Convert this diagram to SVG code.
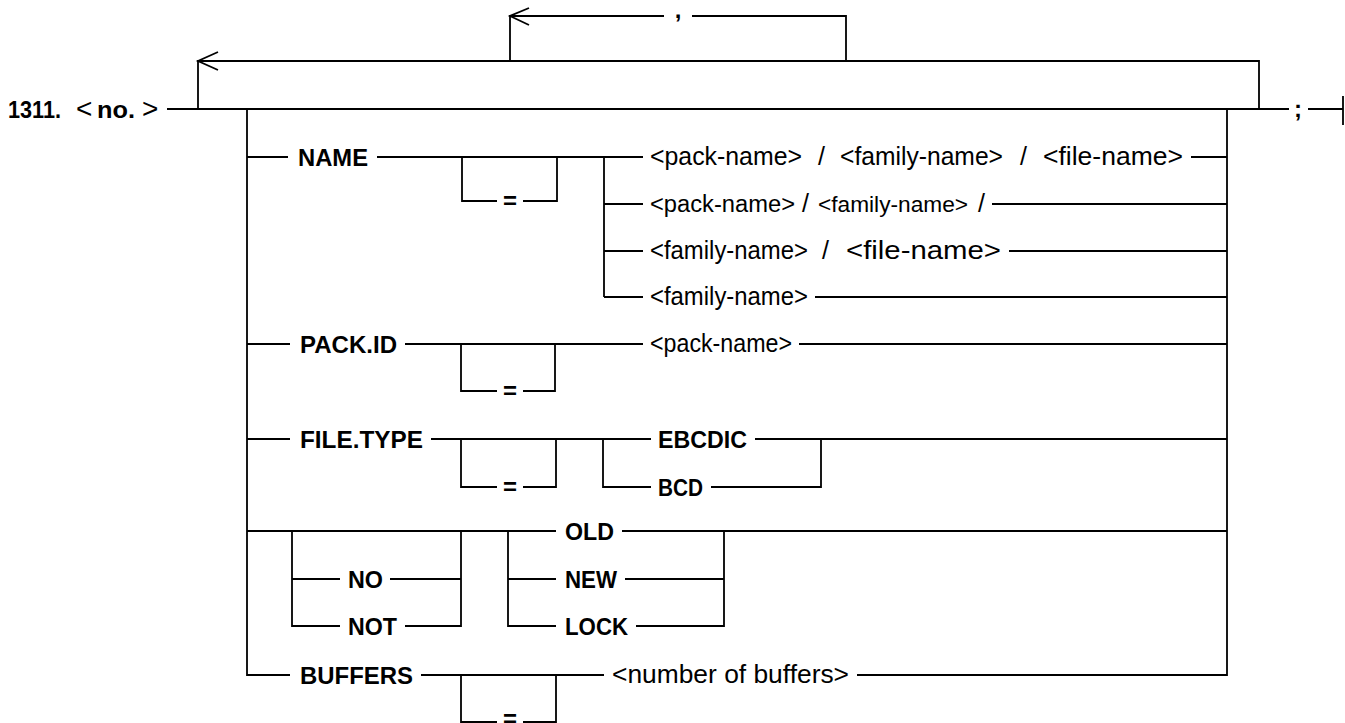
<svg xmlns="http://www.w3.org/2000/svg" width="1345" height="723" viewBox="0 0 1345 723">
<style>
.c{fill:none;stroke:#000;stroke-width:1.8}
.k{font-family:"Liberation Sans",Arial,sans-serif;font-weight:bold;font-size:24px;fill:#000}
.n{font-family:"Liberation Sans",Arial,sans-serif;font-size:25px;fill:#000}
.b{font-family:"Liberation Sans",Arial,sans-serif;font-size:28px}
.m{text-anchor:middle}
</style>
<rect width="1345" height="723" fill="#fff"/>
<g id="connectors" class="c">
<path d="M167 109 H1289 M1308 109 H1343 M1343 96 V125"/>
<path d="M198 109 V61 H1259 V109"/>
<path d="M218 52 L198 61 L218 70"/>
<path d="M510 61 V16 H664 M692 16 H846 V61"/>
<path d="M529 8 L510 16 L529 25"/>
<path d="M247 109 V675 H290"/>
<path d="M1227 109 V675 H857"/>
<path d="M247 157 H288 M377 157 H643 M462 157 V201 H497 M523 201 H557 V157 M604 157 V297 M1191 157 H1227"/>
<path d="M604 204 H643 M992 204 H1227 M604 251 H643 M1009 251 H1227 M604 297 H643 M815 297 H1227"/>
<path d="M247 344 H290 M405 344 H643 M461 344 V391 H497 M523 391 H555 V344 M799 344 H1227"/>
<path d="M247 439 H290 M431 439 H651 M461 439 V487 H497 M523 487 H556 V439 M603 439 V487 H651 M755 439 H1227 M711 487 H821 V439"/>
<path d="M247 531 H556 M622 531 H1227 M292 531 V626 H340 M292 579 H340 M390 579 H461 M405 626 H461 V531 M508 531 V626 H556 M508 579 H556 M625 579 H724 M636 626 H724 V531"/>
<path d="M421 675 H604 M461 675 V722 H497 M523 722 H556 V675"/>
</g>
<g id="start"><text class="k" y="118"><tspan x="8" font-size="23" textLength="53" lengthAdjust="spacingAndGlyphs">1311.</tspan> <tspan class="b" font-weight="normal" x="76">&lt;</tspan><tspan x="97" textLength="38" lengthAdjust="spacingAndGlyphs">no.</tspan><tspan class="b" font-weight="normal" x="142">&gt;</tspan></text></g>
<g id="comma"><text class="k m" x="678" y="18">,</text></g>
<g id="end"><text class="k m" x="1298" y="117" font-size="26">;</text></g>
<g id="name"><text class="k" x="298" y="166" textLength="70" lengthAdjust="spacingAndGlyphs">NAME</text></g>
<g id="name-eq"><text class="k m" x="510" y="209">=</text></g>
<g id="name-opt1"><text class="n" y="165"><tspan x="650" textLength="152" lengthAdjust="spacingAndGlyphs">&lt;pack-name&gt;</tspan><tspan x="818">/</tspan><tspan x="840" textLength="163" lengthAdjust="spacingAndGlyphs">&lt;family-name&gt;</tspan><tspan x="1020">/</tspan><tspan x="1043" textLength="140" lengthAdjust="spacingAndGlyphs">&lt;file-name&gt;</tspan></text></g>
<g id="name-opt2"><text class="n" y="212"><tspan x="650" font-size="23.5" textLength="145" lengthAdjust="spacingAndGlyphs">&lt;pack-name&gt;</tspan><tspan x="802">/</tspan><tspan x="818" font-size="22.8" textLength="150" lengthAdjust="spacingAndGlyphs">&lt;family-name&gt;</tspan><tspan x="978">/</tspan></text></g>
<g id="name-opt3"><text class="n" y="259"><tspan x="650" textLength="158" lengthAdjust="spacingAndGlyphs">&lt;family-name&gt;</tspan><tspan x="822">/</tspan><tspan x="846" textLength="155" lengthAdjust="spacingAndGlyphs">&lt;file-name&gt;</tspan></text></g>
<g id="name-opt4"><text class="n" x="650" y="305" textLength="158" lengthAdjust="spacingAndGlyphs">&lt;family-name&gt;</text></g>
<g id="packid"><text class="k" x="300" y="353" textLength="97" lengthAdjust="spacingAndGlyphs">PACK.ID</text></g>
<g id="packid-eq"><text class="k m" x="510" y="399">=</text></g>
<g id="packid-val"><text class="n" x="650" y="352" textLength="142" lengthAdjust="spacingAndGlyphs">&lt;pack-name&gt;</text></g>
<g id="filetype"><text class="k" x="300" y="448" textLength="123" lengthAdjust="spacingAndGlyphs">FILE.TYPE</text></g>
<g id="filetype-eq"><text class="k m" x="510" y="495">=</text></g>
<g id="ebcdic"><text class="k" x="658" y="448" textLength="89" lengthAdjust="spacingAndGlyphs">EBCDIC</text></g>
<g id="bcd"><text class="k" x="658" y="496" textLength="45" lengthAdjust="spacingAndGlyphs">BCD</text></g>
<g id="no"><text class="k" x="348" y="588" textLength="35" lengthAdjust="spacingAndGlyphs">NO</text></g>
<g id="not"><text class="k" x="348" y="635" textLength="49" lengthAdjust="spacingAndGlyphs">NOT</text></g>
<g id="old"><text class="k" x="565" y="540" textLength="49" lengthAdjust="spacingAndGlyphs">OLD</text></g>
<g id="new"><text class="k" x="565" y="588" textLength="52" lengthAdjust="spacingAndGlyphs">NEW</text></g>
<g id="lock"><text class="k" x="565" y="635" textLength="63" lengthAdjust="spacingAndGlyphs">LOCK</text></g>
<g id="buffers"><text class="k" x="300" y="684" textLength="113" lengthAdjust="spacingAndGlyphs">BUFFERS</text></g>
<g id="buffers-eq"><text class="k m" x="510" y="727">=</text></g>
<g id="buffers-val"><text class="n" x="612" y="683" textLength="237" lengthAdjust="spacingAndGlyphs">&lt;number of buffers&gt;</text></g>
</svg>
